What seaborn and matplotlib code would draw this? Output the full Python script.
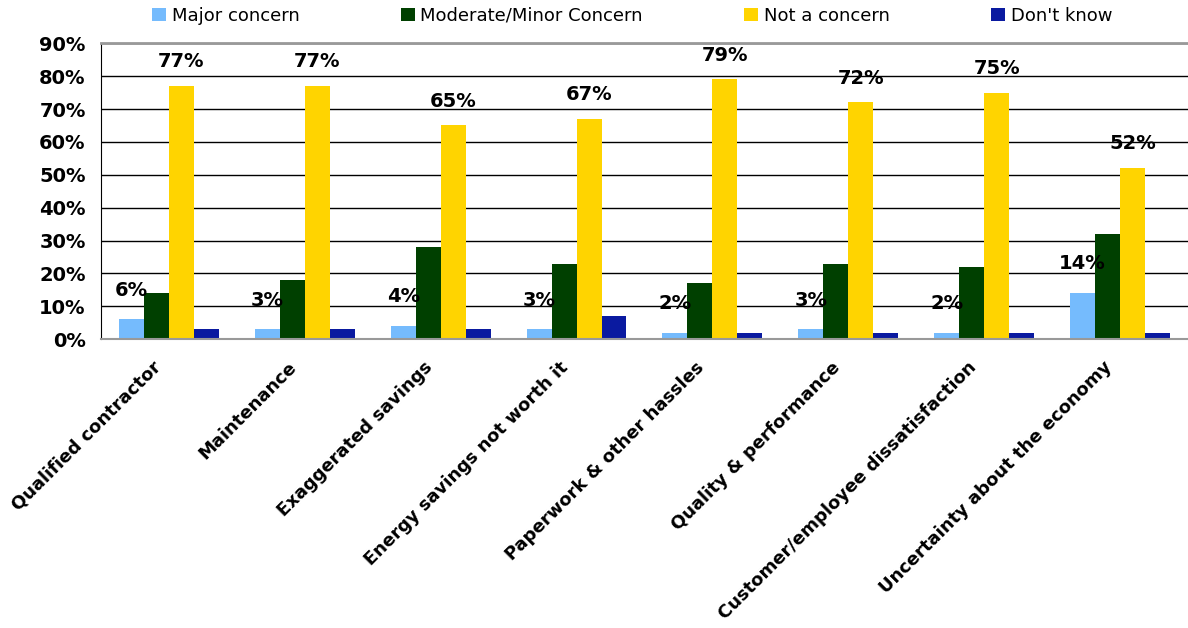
import matplotlib
matplotlib.use("Agg")
import matplotlib.pyplot as plt
import matplotlib.transforms as mtransforms
import seaborn as sns
import pandas as pd
from matplotlib.patches import Patch
from matplotlib.ticker import FixedLocator

categories = ["Qualified contractor", "Maintenance", "Exaggerated savings",
              "Energy savings not worth it", "Paperwork & other hassles",
              "Quality & performance", "Customer/employee dissatisfaction",
              "Uncertainty about the economy"]
series_names = ["Major concern", "Moderate/Minor Concern", "Not a concern", "Don't know"]
major = [6, 3, 4, 3, 2, 3, 2, 14]
moderate = [14, 18, 28, 23, 17, 23, 22, 32]
not_concern = [77, 77, 65, 67, 79, 72, 75, 52]
dont_know = [3, 3, 3, 7, 2, 2, 2, 2]
yticks = [0, 10, 20, 30, 40, 50, 60, 70, 80, 90]
colors = ["#75BBFD", "#004000", "#FFD400", "#0A1AA0"]

sns.set_style("white")
plt.rcParams["font.family"] = ["DejaVu Sans"]
plt.rcParams["text.color"] = "black"
plt.rcParams["xtick.color"] = "black"
plt.rcParams["ytick.color"] = "black"
plt.rcParams["axes.labelcolor"] = "black"

rows = []
for s, vals in zip(series_names, [major, moderate, not_concern, dont_know]):
    for c, v in zip(categories, vals):
        rows.append({"category": c, "series": s, "value": v})
df = pd.DataFrame(rows)

fig = plt.figure(figsize=(11.88, 6.28), dpi=100)
ax = fig.add_axes([0.085, 0.460, 0.915, 0.471])

sns.barplot(data=df, x="category", y="value", hue="series", order=categories,
            hue_order=series_names, palette=colors, width=0.735, gap=0,
            saturation=1, edgecolor="none", linewidth=0, ax=ax, legend=False)

ax.set_ylim(0, 90)
ax.set_xlim(-0.5, len(categories) - 0.5)
ax.set_yticks(yticks)
ax.set_yticklabels([f"{t}%" for t in yticks], fontsize=14, fontweight="bold")
ax.set_xticks(range(len(categories)))
ax.set_xticklabels(categories, rotation=45, ha="right", rotation_mode="anchor",
                   fontsize=13, fontweight="bold")
ax.tick_params(axis="x", which="major", length=0, pad=8)
ax.xaxis.set_minor_locator(FixedLocator([i - 0.5 for i in range(len(categories) + 1)]))
ax.tick_params(axis="x", which="minor", length=6, color="black", width=1)
ax.tick_params(axis="y", length=6, color="black", width=1, pad=5)
ax.set_xlabel("")
ax.set_ylabel("")

# nudge rotated category labels (after tick_params, which resets transforms)
offset = mtransforms.ScaledTranslation(-17 / 100, -8 / 100, fig.dpi_scale_trans)
for lbl in ax.get_xticklabels():
    lbl.set_transform(lbl.get_transform() + offset)

ax.yaxis.grid(True, color="black", linewidth=1)
ax.set_axisbelow(True)
ax.spines["right"].set_visible(False)
ax.spines["top"].set_color("#999999")
ax.spines["top"].set_linewidth(2)
ax.spines["left"].set_color("black")
ax.spines["bottom"].set_color("#999999")
ax.spines["bottom"].set_linewidth(1.5)

# data labels for Major concern and Not a concern
for idx, offs in [(0, 6), (2, 4.5)]:
    cont = ax.containers[idx]
    vals = major if idx == 0 else not_concern
    for bar, v in zip(cont, vals):
        x = bar.get_x() + bar.get_width() / 2
        ax.text(x, v + offs, f"{v}%", ha="center", va="bottom",
                fontsize=14, fontweight="bold", color="black")

handles = [Patch(facecolor=c, edgecolor="none") for c in colors]
fig.legend(handles, series_names, ncol=4, loc="upper center",
           bbox_to_anchor=(0.532, 1.015), frameon=False, fontsize=13,
           handlelength=0.8, handleheight=0.8, handletextpad=0.3,
           columnspacing=5.6, labelcolor="black")

fig.savefig("out.png", dpi=100)
